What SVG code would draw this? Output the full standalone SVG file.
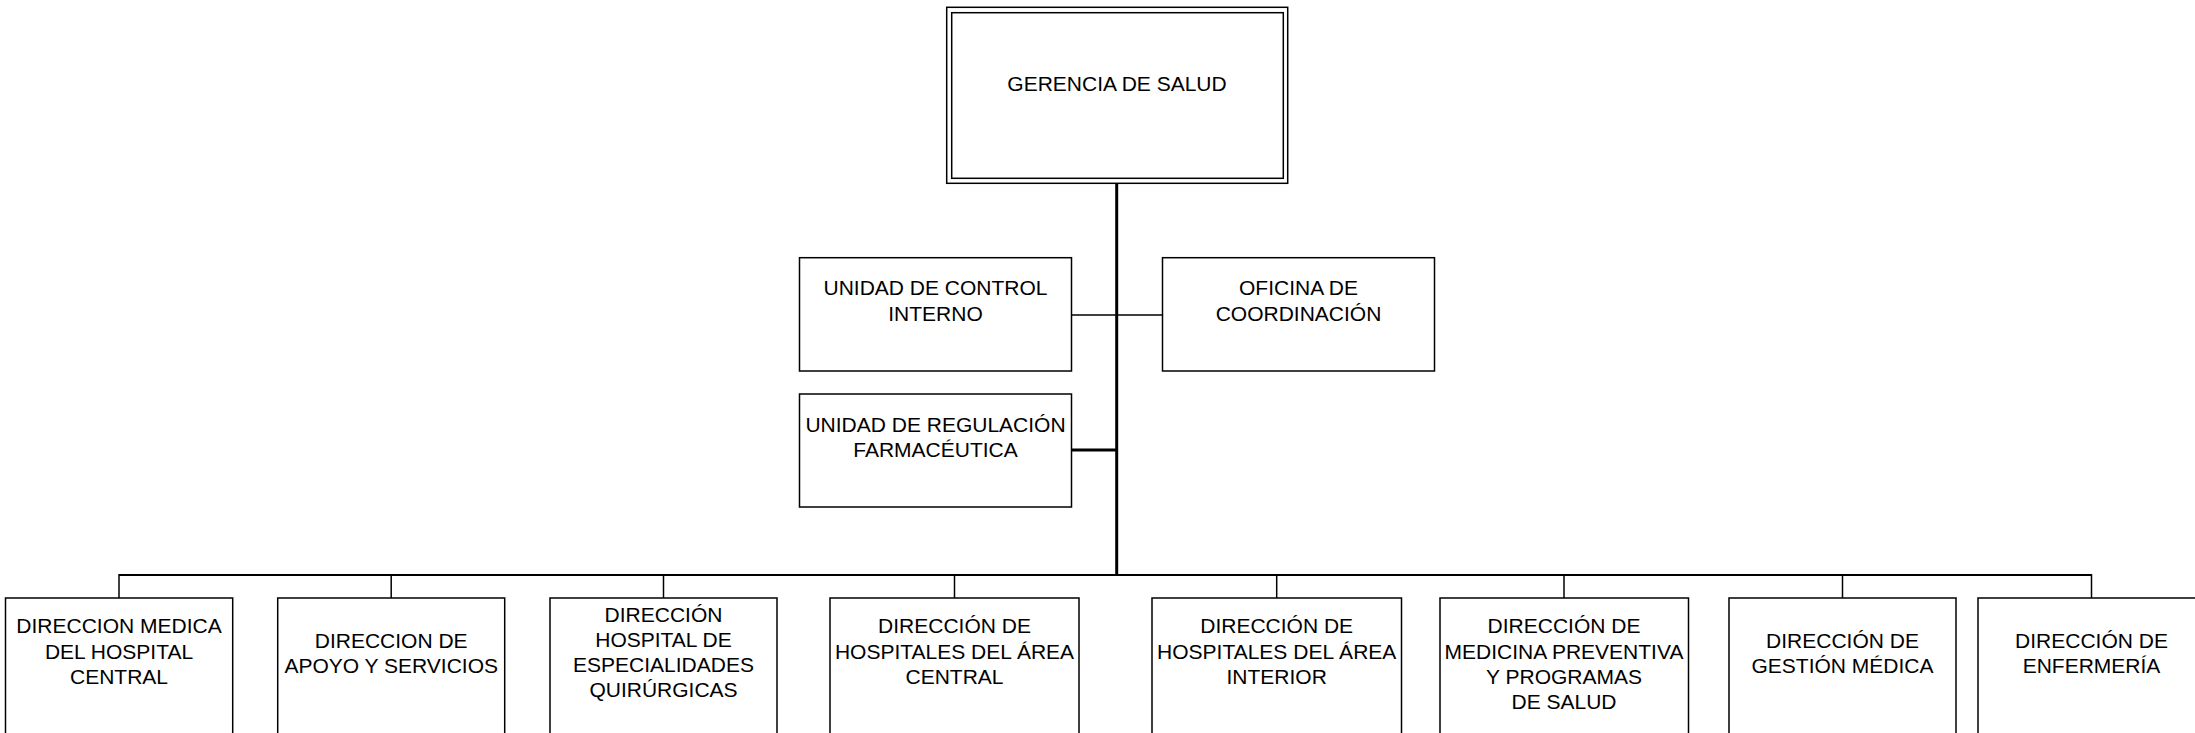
<svg xmlns="http://www.w3.org/2000/svg" width="2195" height="733" viewBox="0 0 2195 733">
<style>
.box{fill:#fff;stroke:#000;stroke-width:1.5}
.t{font-family:"Liberation Sans",Arial,sans-serif;font-size:21px;fill:#000;text-anchor:middle}
.c{stroke:#000;fill:none}
</style>
<rect width="2195" height="733" fill="#fff"/>
<g id="connectors">
<line class="c" x1="1116.7" y1="183" x2="1116.7" y2="576" stroke-width="3"/>
<line class="c" x1="1071.5" y1="315" x2="1162.5" y2="315" stroke-width="1.5"/>
<line class="c" x1="1071.5" y1="450" x2="1118" y2="450" stroke-width="3"/>
<line class="c" x1="119" y1="575" x2="2091.5" y2="575" stroke-width="2"/>
<line class="c" x1="119" y1="574" x2="119" y2="598" stroke-width="1.5"/>
<line class="c" x1="391.2" y1="574" x2="391.2" y2="598" stroke-width="1.5"/>
<line class="c" x1="663.5" y1="574" x2="663.5" y2="598" stroke-width="1.5"/>
<line class="c" x1="954.5" y1="574" x2="954.5" y2="598" stroke-width="1.5"/>
<line class="c" x1="1276.7" y1="574" x2="1276.7" y2="598" stroke-width="1.5"/>
<line class="c" x1="1564" y1="574" x2="1564" y2="598" stroke-width="1.5"/>
<line class="c" x1="1842.5" y1="574" x2="1842.5" y2="598" stroke-width="1.5"/>
<line class="c" x1="2091.5" y1="574" x2="2091.5" y2="598" stroke-width="1.5"/>
</g>
<g id="gerencia">
<rect class="box" x="946.7" y="7.3" width="341" height="176"/>
<rect class="box" x="951.7" y="12.7" width="331.6" height="165.6"/>
<text class="t" x="1117" y="90.7">GERENCIA DE SALUD</text>
</g>
<g id="control-interno">
<rect class="box" x="799.5" y="257.7" width="272" height="113.3"/>
<text class="t" x="935.5" y="295">UNIDAD DE CONTROL</text>
<text class="t" x="935.5" y="320.8">INTERNO</text>
</g>
<g id="oficina-coordinacion">
<rect class="box" x="1162.5" y="257.7" width="272" height="113.3"/>
<text class="t" x="1298.5" y="295">OFICINA DE</text>
<text class="t" x="1298.5" y="320.8">COORDINACIÓN</text>
</g>
<g id="regulacion-farmaceutica">
<rect class="box" x="799.5" y="394" width="272" height="113"/>
<text class="t" x="935.5" y="431.7">UNIDAD DE REGULACIÓN</text>
<text class="t" x="935.5" y="456.9">FARMACÉUTICA</text>
</g>
<g id="dir-medica-hospital-central">
<rect class="box" x="5.5" y="598" width="227.2" height="150"/>
<text class="t" x="119" y="633.3">DIRECCION MEDICA</text>
<text class="t" x="119" y="658.6">DEL HOSPITAL</text>
<text class="t" x="119" y="683.9">CENTRAL</text>
</g>
<g id="dir-apoyo-servicios">
<rect class="box" x="277.7" y="598" width="227" height="150"/>
<text class="t" x="391.2" y="647.5">DIRECCION DE</text>
<text class="t" x="391.2" y="672.6">APOYO Y SERVICIOS</text>
</g>
<g id="dir-especialidades-quirurgicas">
<rect class="box" x="550" y="598" width="227" height="150"/>
<text class="t" x="663.5" y="621.5">DIRECCIÓN</text>
<text class="t" x="663.5" y="646.7">HOSPITAL DE</text>
<text class="t" x="663.5" y="671.9">ESPECIALIDADES</text>
<text class="t" x="663.5" y="697.1">QUIRÚRGICAS</text>
</g>
<g id="dir-hospitales-area-central">
<rect class="box" x="830" y="598" width="249" height="150"/>
<text class="t" x="954.5" y="633.3">DIRECCIÓN DE</text>
<text class="t" x="954.5" y="658.6">HOSPITALES DEL ÁREA</text>
<text class="t" x="954.5" y="683.9">CENTRAL</text>
</g>
<g id="dir-hospitales-area-interior">
<rect class="box" x="1152" y="598" width="249.5" height="150"/>
<text class="t" x="1276.7" y="633.3">DIRECCIÓN DE</text>
<text class="t" x="1276.7" y="658.6">HOSPITALES DEL ÁREA</text>
<text class="t" x="1276.7" y="683.9">INTERIOR</text>
</g>
<g id="dir-medicina-preventiva">
<rect class="box" x="1440" y="598" width="248.5" height="150"/>
<text class="t" x="1564" y="633.3">DIRECCIÓN DE</text>
<text class="t" x="1564" y="658.6">MEDICINA PREVENTIVA</text>
<text class="t" x="1564" y="683.9">Y PROGRAMAS</text>
<text class="t" x="1564" y="709.2">DE SALUD</text>
</g>
<g id="dir-gestion-medica">
<rect class="box" x="1729" y="598" width="227" height="150"/>
<text class="t" x="1842.5" y="647.5">DIRECCIÓN DE</text>
<text class="t" x="1842.5" y="672.6">GESTIÓN MÉDICA</text>
</g>
<g id="dir-enfermeria">
<rect class="box" x="1978" y="598" width="227" height="150"/>
<text class="t" x="2091.5" y="647.5">DIRECCIÓN DE</text>
<text class="t" x="2091.5" y="672.6">ENFERMERÍA</text>
</g>
</svg>
